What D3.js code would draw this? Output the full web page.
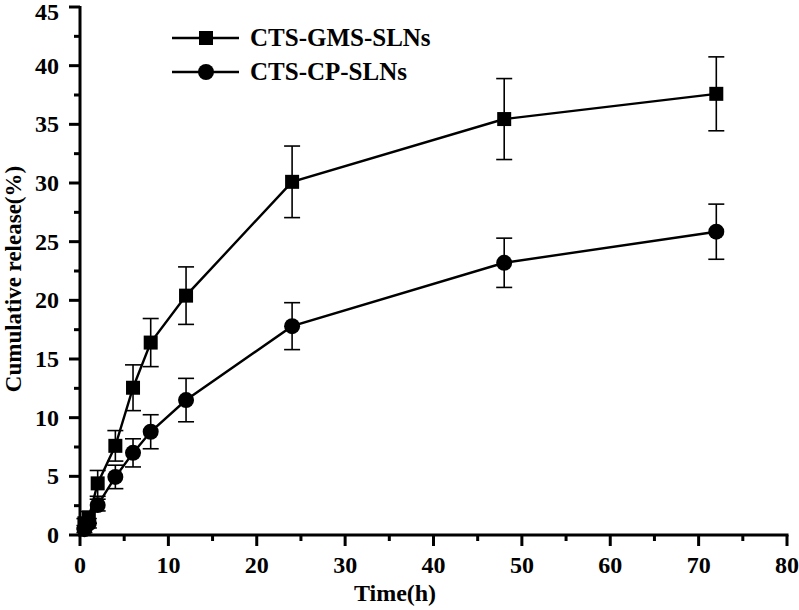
<!DOCTYPE html>
<html>
<head>
<meta charset="utf-8">
<script src="https://cdn.jsdelivr.net/npm/d3@7"></script>
<style>
  html, body { margin: 0; padding: 0; background: #fff; }
  svg { display: block; }
  text { font-family: "Liberation Serif", "Times New Roman", serif; font-weight: bold; fill: #000; }
</style>
</head>
<body>
<svg id="chart" width="799" height="610"></svg>
<script>
// ---- data ----
const times = [0.5, 1, 2, 4, 6, 8, 12, 24, 48, 72];
const gmsValues = [1.0, 1.5, 4.4, 7.6, 12.55, 16.4, 20.4, 30.1, 35.45, 37.6];
const gmsErrors = [0.4, 0.5, 1.1, 1.3, 1.95, 2.05, 2.45, 3.05, 3.45, 3.15];
const cpValues = [0.5, 1.0, 2.55, 4.95, 7.0, 8.8, 11.5, 17.8, 23.2, 25.85];
const cpErrors = [0.3, 0.4, 0.5, 1.0, 1.2, 1.45, 1.85, 2.0, 2.1, 2.35];
const seriesNames = ["CTS-GMS-SLNs", "CTS-CP-SLNs"];
const xTicks = [0, 10, 20, 30, 40, 50, 60, 70, 80];
const yTicks = [0, 5, 10, 15, 20, 25, 30, 35, 40, 45];
const xTitle = "Time(h)";
const yTitle = "Cumulative release(%)";

const svg = d3.select("#chart");
const x = d3.scaleLinear().domain([0, 80]).range([80, 787]);
const y = d3.scaleLinear().domain([0, 45]).range([535, 7]);

const series = [
  { name: seriesNames[0], vals: gmsValues, errs: gmsErrors, shape: "square" },
  { name: seriesNames[1], vals: cpValues, errs: cpErrors, shape: "circle" }
];

const line = d3.line().x(d => x(d.t)).y(d => y(d.v));
const capW = 8;

series.forEach(s => {
  const pts = times.map((t, i) => ({ t, v: s.vals[i], e: s.errs[i] }));
  const g = svg.append("g");
  pts.forEach(p => {
    g.append("line").attr("x1", x(p.t)).attr("x2", x(p.t))
      .attr("y1", y(p.v + p.e)).attr("y2", y(p.v - p.e))
      .attr("stroke", "#000").attr("stroke-width", 1.6);
    [p.v + p.e, p.v - p.e].forEach(v => {
      g.append("line").attr("x1", x(p.t) - capW).attr("x2", x(p.t) + capW)
        .attr("y1", y(v)).attr("y2", y(v))
        .attr("stroke", "#000").attr("stroke-width", 1.6);
    });
  });
  g.append("path").datum(pts).attr("d", line)
    .attr("fill", "none").attr("stroke", "#000").attr("stroke-width", 2.4);
  pts.forEach(p => {
    if (s.shape === "square") {
      g.append("rect").attr("x", x(p.t) - 7).attr("y", y(p.v) - 7)
        .attr("width", 14).attr("height", 14).attr("fill", "#000");
    } else {
      g.append("circle").attr("cx", x(p.t)).attr("cy", y(p.v)).attr("r", 8).attr("fill", "#000");
    }
  });
});

// axes
const xMinor = d3.range(5, 80, 10);
const yMinor = d3.range(2.5, 45, 5);

const xAxis = svg.append("g").attr("transform", "translate(0,535)");
xAxis.append("line").attr("x1", 78.5).attr("x2", 788.5).attr("stroke", "#000").attr("stroke-width", 3);
xAxis.selectAll(".maj").data(xTicks).enter().append("line")
  .attr("x1", d => x(d)).attr("x2", d => x(d)).attr("y1", 0).attr("y2", 11)
  .attr("stroke", "#000").attr("stroke-width", 3);
xAxis.selectAll(".min").data(xMinor).enter().append("line")
  .attr("x1", d => x(d)).attr("x2", d => x(d)).attr("y1", 0).attr("y2", 6)
  .attr("stroke", "#000").attr("stroke-width", 3);
xAxis.selectAll("text").data(xTicks).enter().append("text")
  .attr("x", d => x(d)).attr("y", 38).attr("text-anchor", "middle")
  .attr("font-size", 24).text(d => d);

const yAxis = svg.append("g").attr("transform", "translate(80,0)");
yAxis.append("line").attr("y1", 536.5).attr("y2", 6).attr("stroke", "#000").attr("stroke-width", 3);
yAxis.selectAll(".maj").data(yTicks).enter().append("line")
  .attr("y1", d => y(d)).attr("y2", d => y(d)).attr("x1", 0).attr("x2", -11)
  .attr("stroke", "#000").attr("stroke-width", 3);
yAxis.selectAll(".min").data(yMinor).enter().append("line")
  .attr("y1", d => y(d)).attr("y2", d => y(d)).attr("x1", 0).attr("x2", -6)
  .attr("stroke", "#000").attr("stroke-width", 3);
yAxis.selectAll("text").data(yTicks).enter().append("text")
  .attr("x", -21).attr("y", d => Math.max(y(d) + 8, 20)).attr("text-anchor", "end")
  .attr("font-size", 24).text(d => d);

// titles
svg.append("text").attr("x", 395).attr("y", 601).attr("text-anchor", "middle")
  .attr("font-size", 24).text(xTitle);
svg.append("text").attr("transform", `translate(21,279) rotate(-90)`)
  .attr("text-anchor", "middle").attr("font-size", 23).text(yTitle);

// legend
const legY = [38, 72];
series.forEach((s, i) => {
  const g = svg.append("g");
  g.append("line").attr("x1", 172).attr("x2", 239).attr("y1", legY[i]).attr("y2", legY[i])
    .attr("stroke", "#000").attr("stroke-width", 2.4);
  if (s.shape === "square") {
    g.append("rect").attr("x", 206 - 7).attr("y", legY[i] - 7).attr("width", 14).attr("height", 14).attr("fill", "#000");
  } else {
    g.append("circle").attr("cx", 206).attr("cy", legY[i]).attr("r", 8).attr("fill", "#000");
  }
  g.append("text").attr("x", 250).attr("y", legY[i] + 8).attr("font-size", 25).text(s.name);
});
</script>
</body>
</html>
